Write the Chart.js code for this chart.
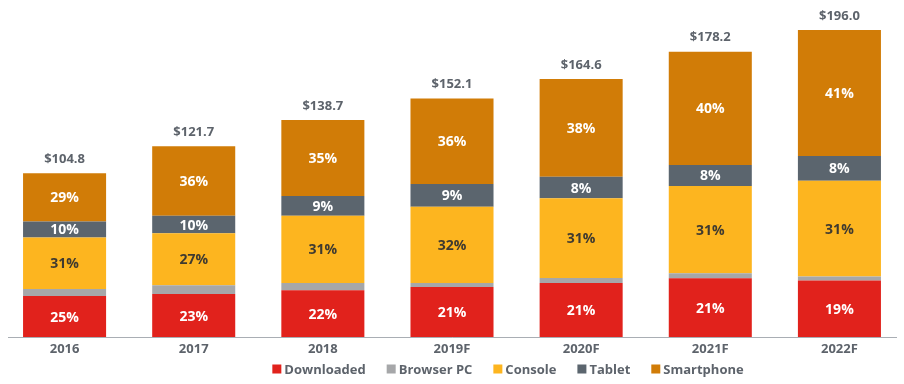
<!DOCTYPE html>
<html>
<head>
<meta charset="utf-8">
<script src="https://cdn.jsdelivr.net/npm/chart.js@4.4.1/dist/chart.umd.min.js"></script>
<style>
  html, body { margin: 0; padding: 0; background: #fff; }
  #wrap { width: 904px; height: 384px; position: relative; }
</style>
</head>
<body>
<div id="wrap"><canvas id="revChart"></canvas></div>
<script>
// categories
const years = ["2016", "2017", "2018", "2019F", "2020F", "2021F", "2022F"];
// total revenue label shown above each bar ($bn)
const totals = ["$104.8", "$121.7", "$138.7", "$152.1", "$164.6", "$178.2", "$196.0"];

// segment values ($bn)
const downloaded = [26.4, 27.7, 30.0, 32.1, 34.7, 37.7, 36.2];
const browserPC  = [4.5, 5.6, 4.7, 2.6, 3.2, 3.2, 2.6];
const consoleRev = [32.8, 33.0, 42.8, 48.5, 50.7, 55.6, 61.1];
const tablet     = [10.2, 11.2, 12.6, 14.5, 13.8, 13.4, 15.7];
const smartphone = [30.7, 44.3, 48.5, 54.5, 62.2, 72.2, 80.3];

// share labels printed inside the segments
const downloadedPct = ["25%", "23%", "22%", "21%", "21%", "21%", "19%"];
const consolePct    = ["31%", "27%", "31%", "32%", "31%", "31%", "31%"];
const tabletPct     = ["10%", "10%", "9%", "9%", "8%", "8%", "8%"];
const smartphonePct = ["29%", "36%", "35%", "36%", "38%", "40%", "41%"];

const FONT = "'Open Sans', 'Noto Sans', sans-serif";
const GREY_TEXT = "#5d636b";

// labels inside segments + totals on top
const labelPlugin = {
  id: "segLabels",
  afterDatasetsDraw(chart) {
    const ctx = chart.ctx;
    ctx.save();
    ctx.textAlign = "center";
    ctx.textBaseline = "middle";
    chart.data.datasets.forEach((ds, i) => {
      if (!ds.pctLabels) return;
      const meta = chart.getDatasetMeta(i);
      ctx.font = "bold 14px " + FONT;
      ctx.fillStyle = ds.labelColor;
      meta.data.forEach((bar, j) => {
        ctx.fillText(ds.pctLabels[j], bar.x, (bar.y + bar.base) / 2 + 1);
      });
    });
    // totals
    const topMeta = chart.getDatasetMeta(chart.data.datasets.length - 1);
    ctx.font = "bold 13px " + FONT;
    ctx.fillStyle = GREY_TEXT;
    topMeta.data.forEach((bar, j) => {
      ctx.fillText(totals[j], bar.x, bar.y - 14);
    });
    // baseline
    const y = chart.scales.y.getPixelForValue(0);
    ctx.strokeStyle = "#a9aeb4";
    ctx.lineWidth = 1;
    ctx.beginPath();
    ctx.moveTo(8, Math.round(y) + 0.5);
    ctx.lineTo(897, Math.round(y) + 0.5);
    ctx.stroke();
    ctx.restore();
  }
};

// compact legend under the axis
const legendPlugin = {
  id: "bottomLegend",
  afterDraw(chart) {
    const ctx = chart.ctx;
    const box = 9, gapText = 3, gapItem = 21;
    const y = 369;
    ctx.save();
    ctx.font = "bold 13px " + FONT;
    ctx.textBaseline = "middle";
    ctx.textAlign = "left";
    const items = chart.data.datasets.map(ds => ({
      text: ds.label, color: ds.backgroundColor, w: ctx.measureText(ds.label).width
    }));
    let total = 0;
    items.forEach((it, k) => { total += box + gapText + it.w + (k < items.length - 1 ? gapItem : 0); });
    let x = 508 - total / 2;
    items.forEach(it => {
      ctx.fillStyle = it.color;
      ctx.fillRect(x, y - box / 2, box, box);
      x += box + gapText;
      ctx.fillStyle = GREY_TEXT;
      ctx.fillText(it.text, x, y + 1);
      x += it.w + gapItem;
    });
    ctx.restore();
  }
};

new Chart(document.getElementById("revChart").getContext("2d"), {
  type: "bar",
  data: {
    labels: years,
    datasets: [
      { label: "Downloaded", data: downloaded, backgroundColor: "#e1221c", pctLabels: downloadedPct, labelColor: "#ffffff" },
      { label: "Browser PC", data: browserPC, backgroundColor: "#a6a7a9" },
      { label: "Console", data: consoleRev, backgroundColor: "#fdb51f", pctLabels: consolePct, labelColor: "#3f3a30" },
      { label: "Tablet", data: tablet, backgroundColor: "#5b656e", pctLabels: tabletPct, labelColor: "#ffffff" },
      { label: "Smartphone", data: smartphone, backgroundColor: "#d17c07", pctLabels: smartphonePct, labelColor: "#ffffff" },
    ],
  },
  options: {
    responsive: true,
    maintainAspectRatio: false,
    animation: false,
    layout: { padding: { top: 0, left: 0, right: 0, bottom: 23 } },
    datasets: {
      bar: { barPercentage: 0.643, categoryPercentage: 1, borderWidth: 0 },
    },
    plugins: {
      legend: { display: false },
      tooltip: { enabled: false },
    },
    scales: {
      x: {
        stacked: true,
        grid: { display: false, drawTicks: false },
        border: { display: false },
        ticks: { color: GREY_TEXT, font: { family: FONT, size: 13, weight: "bold" }, padding: 4 },
      },
      y: {
        stacked: true,
        display: false,
        min: 0,
        max: 215,
      },
    },
  },
  plugins: [labelPlugin, legendPlugin],
});
</script>
</body>
</html>
